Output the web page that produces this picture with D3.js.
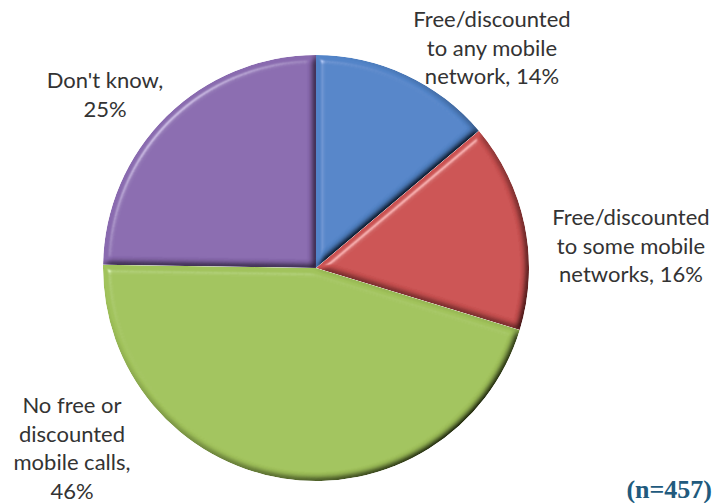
<!DOCTYPE html>
<html><head><meta charset="utf-8">
<script src="https://cdn.jsdelivr.net/npm/d3@7"></script>
<style>body{margin:0;background:#fff}svg{display:block}</style>
</head><body>
<svg id="c" width="714" height="503"></svg>
<script>
const categories = ["Free/discounted to any mobile network", "Free/discounted to some mobile networks", "No free or discounted mobile calls", "Don't know"];
const values = [14, 16, 46, 25];
const labelLines = [
  ["Free/discounted", "to any mobile", "network, 14%"],
  ["Free/discounted", "to some mobile", "networks, 16%"],
  ["No free or", "discounted", "mobile calls,", "46%"],
  ["Don't know,", "25%"]
];
const colors = ["#5284c8", "#cb5151", "#a1c35b", "#896aaf"];
const note = "(n=457)";

const svg = d3.select("#c");
const cx = 316, cy = 268, R = 213;

const defs = svg.append("defs");
const f = defs.append("filter").attr("id","bevel").attr("x","-10%").attr("y","-10%").attr("width","120%").attr("height","120%");
f.append("feGaussianBlur").attr("in","SourceAlpha").attr("stdDeviation",3.5).attr("result","blur");
const dl = f.append("feDiffuseLighting").attr("in","blur").attr("surfaceScale",6).attr("diffuseConstant",1.22).attr("lighting-color","#fff").attr("result","diff");
dl.append("feDistantLight").attr("azimuth",225).attr("elevation",55);
f.append("feComposite").attr("in","diff").attr("in2","SourceAlpha").attr("operator","in").attr("result","diffIn");
f.append("feComposite").attr("in","SourceGraphic").attr("in2","diffIn").attr("operator","arithmetic").attr("k1",1).attr("k2",0).attr("k3",0).attr("k4",0).attr("result","shaded");
const sl = f.append("feSpecularLighting").attr("in","blur").attr("surfaceScale",6).attr("specularConstant",0.7).attr("specularExponent",40).attr("lighting-color","#fff").attr("result","spec");
sl.append("feDistantLight").attr("azimuth",225).attr("elevation",45);
f.append("feComposite").attr("in","spec").attr("in2","SourceAlpha").attr("operator","in").attr("result","specIn");
f.append("feComposite").attr("in","shaded").attr("in2","specIn").attr("operator","arithmetic").attr("k1",0).attr("k2",1).attr("k3",0.45).attr("k4",0);

const pie = d3.pie().sort(null).value(d => d)(values);
const arc = d3.arc().innerRadius(0).outerRadius(R);
const g = svg.append("g").attr("transform",`translate(${cx},${cy})`);
g.selectAll("path.slice").data(pie).join("path")
  .attr("class","slice")
  .attr("d", arc)
  .attr("fill",(d,i)=>colors[i])
  .attr("filter","url(#bevel)");

// labels
const labelPos = [[492, 27], [631, 225], [72, 413], [105, 88]];
const lh = 28.5;
labelLines.forEach((lines,i)=>{
  const t = svg.append("text").attr("text-anchor","middle")
    .attr("font-family","Lato, 'Open Sans', sans-serif").attr("font-size",22).attr("fill","#333");
  lines.forEach((s,j)=>{
    t.append("tspan").attr("x",labelPos[i][0]).attr("y",labelPos[i][1]+j*lh).text(s);
  });
});

svg.append("text").attr("x",712).attr("y",498).attr("text-anchor","end")
  .attr("font-family","'Liberation Serif', 'Times New Roman', serif").attr("font-weight","bold")
  .attr("font-size",26).attr("fill","#215a7d").text(note);
</script>
</body></html>
